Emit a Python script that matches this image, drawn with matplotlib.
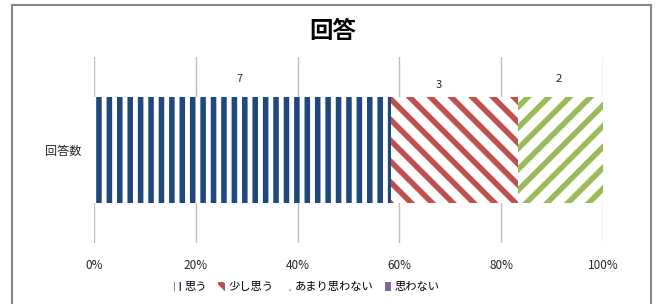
import matplotlib
matplotlib.use("Agg")
import matplotlib.pyplot as plt
from matplotlib.lines import Line2D
import numpy as np

plt.rcParams["font.family"] = ["Noto Sans CJK JP", "DejaVu Sans"]
plt.rcParams["hatch.linewidth"] = 3.2

# ---------------------------------------------------------------------------
# data
# ---------------------------------------------------------------------------
title = "回答"
category = "回答数"
series_names = ["思う", "少し思う", "あまり思わない", "思わない"]
counts = [7, 3, 2, 0]
tick_values = [0, 20, 40, 60, 80, 100]
tick_labels = ["0%", "20%", "40%", "60%", "80%", "100%"]

# styling
colors = ["#1F497D", "#C0504D", "#9BBB59", "#8064A2"]
hatches = ["||", "\\\\", "//", None]
label_offsets = [(-3, 13), (-16, 7), (-2, 13), (0, 0)]  # px nudges, Excel-ish

DPI = 125
fig = plt.figure(figsize=(656 / DPI, 304 / DPI), dpi=DPI)
ax = fig.add_axes([94 / 656, 1 - 243 / 304, 509 / 656, 186 / 304])

total = sum(counts)
shares = np.array(counts) / total * 100
lefts = np.concatenate([[0], np.cumsum(shares)[:-1]])

bar_h = 0.575
for name, share, left, c, h in zip(series_names, shares, lefts, colors, hatches):
    if h is None:
        ax.barh(0, share, left=left, height=bar_h, color=c, linewidth=0,
                label=name, zorder=3)
    else:
        ax.barh(0, share, left=left, height=bar_h, facecolor="white",
                edgecolor=c, hatch=h, linewidth=0, label=name, zorder=3)

# data labels above the bar
for n, share, left, off in zip(counts, shares, lefts, label_offsets):
    if n == 0:
        continue
    ax.annotate(str(n), xy=(left + share / 2, bar_h / 2),
                xytext=(off[0] * 72 / DPI, off[1] * 72 / DPI),
                textcoords="offset points", ha="center", va="bottom",
                fontsize=6.5, color="#262626")

ax.set_xlim(0, 100)
ax.set_ylim(-0.5, 0.5)
ax.set_xticks(tick_values)
ax.set_xticklabels(tick_labels)
ax.set_yticks([0])
ax.set_yticklabels([category])
ax.tick_params(axis="x", length=0, pad=9, labelsize=6.8, labelcolor="#262626")
ax.tick_params(axis="y", length=0, pad=7, labelsize=7, labelcolor="#262626")
ax.grid(True, axis="x", color="#BFBFBF", linewidth=0.8, zorder=0)
for s in ax.spines.values():
    s.set_visible(False)

fig.text(333 / 656, 1 - 31 / 304, title, ha="center", va="center",
         fontsize=13.5, fontweight="bold")

fig.legend(loc="center", bbox_to_anchor=(307 / 656, 1 - 287 / 304),
           ncol=4, frameon=False, fontsize=6.5, handlelength=0.6,
           handleheight=0.8, handletextpad=0.3, columnspacing=1.0)

# outer chart frame
frame = dict(color="#868686", linewidth=1.2, transform=fig.transFigure)
x0, x1, y0 = 12 / 656, 651 / 656, 1 - 5 / 304
fig.add_artist(Line2D([x0, x0], [0, y0], **frame))
fig.add_artist(Line2D([x1, x1], [0, y0], **frame))
fig.add_artist(Line2D([x0, x1], [y0, y0], **frame))

fig.savefig("out.png", dpi=DPI)
